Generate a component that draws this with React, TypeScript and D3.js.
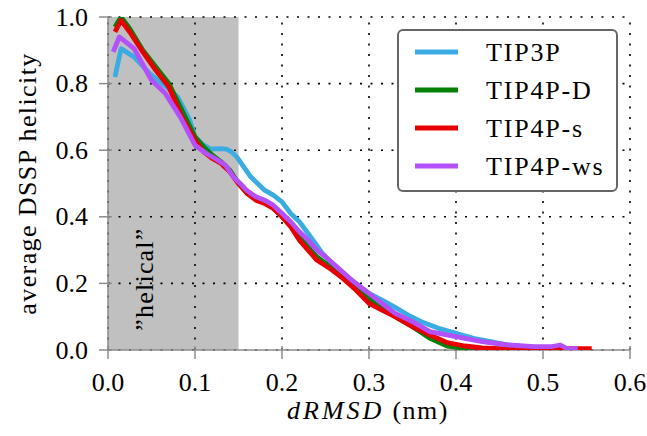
import React from 'react';
import * as d3 from 'd3';

const W = 647;
const H = 436;

const xTicks = [0, 0.1, 0.2, 0.3, 0.4, 0.5, 0.6];
const yTicks = [0, 0.2, 0.4, 0.6, 0.8, 1.0];
const seriesNames = ['TIP3P', 'TIP4P-D', 'TIP4P-s', 'TIP4P-ws'];
const seriesColors = ['#3aace2', '#068006', '#e60000', '#b450fa'];
const helicalRange = [0, 0.15];

const tip3pX = [0.008, 0.015, 0.03, 0.048, 0.065, 0.08, 0.094, 0.1, 0.11, 0.118, 0.128, 0.136, 0.142, 0.148, 0.156, 0.164, 0.172, 0.18, 0.19, 0.2, 0.21, 0.22, 0.23, 0.245, 0.26, 0.27, 0.285, 0.3, 0.315, 0.33, 0.345, 0.36, 0.38, 0.4, 0.42, 0.44, 0.46, 0.48, 0.5];
const tip3pY = [0.82, 0.905, 0.88, 0.83, 0.795, 0.76, 0.69, 0.64, 0.615, 0.603, 0.605, 0.603, 0.595, 0.58, 0.55, 0.52, 0.5, 0.48, 0.465, 0.445, 0.41, 0.385, 0.35, 0.295, 0.25, 0.23, 0.2, 0.17, 0.15, 0.128, 0.105, 0.085, 0.065, 0.05, 0.035, 0.025, 0.015, 0.01, 0.005];

const tip4pdX = [0.008, 0.015, 0.025, 0.04, 0.055, 0.07, 0.085, 0.1, 0.11, 0.12, 0.13, 0.14, 0.15, 0.16, 0.17, 0.18, 0.19, 0.2, 0.21, 0.22, 0.23, 0.24, 0.255, 0.27, 0.285, 0.3, 0.315, 0.33, 0.35, 0.37, 0.39, 0.41, 0.43, 0.45, 0.47];
const tip4pdY = [0.97, 1.0, 0.965, 0.9, 0.85, 0.8, 0.72, 0.64, 0.61, 0.585, 0.565, 0.54, 0.5, 0.47, 0.455, 0.445, 0.43, 0.41, 0.38, 0.345, 0.31, 0.28, 0.25, 0.22, 0.19, 0.155, 0.125, 0.1, 0.07, 0.035, 0.012, 0.005, 0.002, 0.001, 0.0];

const tip4psX = [0.008, 0.015, 0.025, 0.04, 0.055, 0.07, 0.085, 0.1, 0.11, 0.12, 0.13, 0.14, 0.15, 0.16, 0.17, 0.18, 0.19, 0.2, 0.21, 0.22, 0.23, 0.24, 0.255, 0.27, 0.285, 0.3, 0.315, 0.33, 0.35, 0.37, 0.39, 0.41, 0.43, 0.45, 0.47, 0.5, 0.53, 0.556];
const tip4psY = [0.955, 0.99, 0.955, 0.895, 0.84, 0.79, 0.7, 0.63, 0.595, 0.575, 0.56, 0.535, 0.5, 0.47, 0.45, 0.44, 0.425, 0.4, 0.37, 0.33, 0.3, 0.27, 0.245, 0.215, 0.18, 0.14, 0.12, 0.1, 0.07, 0.045, 0.022, 0.012, 0.006, 0.004, 0.003, 0.003, 0.004, 0.004];

const tip4pwsX = [0.006, 0.013, 0.03, 0.05, 0.066, 0.083, 0.1, 0.113, 0.125, 0.135, 0.144, 0.152, 0.16, 0.17, 0.18, 0.19, 0.2, 0.21, 0.22, 0.23, 0.24, 0.25, 0.265, 0.28, 0.295, 0.31, 0.33, 0.35, 0.37, 0.4, 0.43, 0.46, 0.49, 0.51, 0.52, 0.527, 0.54];
const tip4pwsY = [0.895, 0.94, 0.905, 0.81, 0.77, 0.7, 0.615, 0.59, 0.572, 0.555, 0.52, 0.5, 0.478, 0.46, 0.45, 0.435, 0.41, 0.385, 0.355, 0.33, 0.3, 0.28, 0.245, 0.21, 0.18, 0.15, 0.11, 0.085, 0.055, 0.04, 0.025, 0.015, 0.01, 0.01, 0.015, 0.005, 0.003];

const seriesX = [tip3pX, tip4pdX, tip4psX, tip4pwsX];
const seriesY = [tip3pY, tip4pdY, tip4psY, tip4pwsY];

const FONT = "'Liberation Serif', 'Times New Roman', 'DejaVu Serif', serif";

export default function App() {
  const x = d3.scaleLinear().domain([0, 0.6]).range([108, 630]);
  const y = d3.scaleLinear().domain([0, 1]).range([350, 17]);
  const line = d3
    .line<[number, number]>()
    .x((d) => x(d[0]))
    .y((d) => y(d[1]));
  const dash = '2,8.5';
  const fs = 26;
  const ts = { fontFamily: FONT, fontSize: fs, fill: '#000' } as React.CSSProperties;

  return (
    <svg
      width={W}
      height={H}
      style={{ position: 'absolute', left: 0, top: 0, background: '#fff' }}
    >
      <defs>
        <clipPath id="plotclip">
          <rect x={x(0)} y={y(1)} width={x(0.6) - x(0)} height={y(0) - y(1)} />
        </clipPath>
      </defs>
      <rect
        x={x(helicalRange[0])}
        y={y(1)}
        width={x(helicalRange[1]) - x(helicalRange[0])}
        height={y(0) - y(1)}
        fill="#c0c0c0"
      />
      {xTicks.map((t) => (
        <line key={'gx' + t} x1={x(t)} x2={x(t)} y1={y(0)} y2={y(1)} stroke="#000" strokeWidth={1.6} strokeDasharray={dash} />
      ))}
      {yTicks.map((t) => (
        <line key={'gy' + t} x1={x(0)} x2={x(0.6)} y1={y(t)} y2={y(t)} stroke="#000" strokeWidth={1.6} strokeDasharray={dash} />
      ))}
      <line x1={x(0)} x2={x(0.6)} y1={y(0)} y2={y(0)} stroke="#8c8c8c" strokeWidth={1.5} />
      <line x1={x(0)} x2={x(0)} y1={y(0)} y2={y(1)} stroke="#8c8c8c" strokeWidth={1.5} />
      {xTicks.map((t) => (
        <line key={'tx' + t} x1={x(t)} x2={x(t)} y1={y(0) - 4} y2={y(0) + 9} stroke="#8c8c8c" strokeWidth={1.5} />
      ))}
      {yTicks.map((t) => (
        <line key={'ty' + t} x1={x(0) - 9} x2={x(0) + 4} y1={y(t)} y2={y(t)} stroke="#8c8c8c" strokeWidth={1.5} />
      ))}
      <text
        transform={`translate(${x(0.052)},${y(0.213)}) rotate(-90)`}
        textAnchor="middle"
        style={{ ...ts, letterSpacing: 1.2 }}
      >
        {'\u201Dhelical\u201D'}
      </text>
      <g clipPath="url(#plotclip)">
        {seriesNames.map((name, i) => {
          const pts = seriesX[i].map((v, j) => [v, seriesY[i][j]] as [number, number]);
          return (
            <path
              key={name}
              d={line(pts) || ''}
              fill="none"
              stroke={seriesColors[i]}
              strokeWidth={4.8}
              strokeLinejoin="round"
              strokeLinecap="butt"
            />
          );
        })}
      </g>
      {xTicks.map((t) => (
        <text key={'lx' + t} x={x(t)} y={391} textAnchor="middle" style={ts}>
          {t.toFixed(1)}
        </text>
      ))}
      {yTicks.map((t) => (
        <text key={'ly' + t} x={88} y={y(t) + 8.5} textAnchor="end" style={ts}>
          {t.toFixed(1)}
        </text>
      ))}
      <text x={368} y={419} textAnchor="middle" style={ts}>
        <tspan fontStyle="italic" letterSpacing={3}>dRMSD</tspan>
        <tspan letterSpacing={1.5}> (nm)</tspan>
      </text>
      <text
        transform={`translate(36,${(y(0) + y(1)) / 2}) rotate(-90)`}
        textAnchor="middle"
        style={{ ...ts, letterSpacing: 1.4 }}
      >
        average DSSP helicity
      </text>
      <rect x={398} y={30} width={219} height={161} rx={5} ry={5} fill="#fff" stroke="#666" strokeWidth={2} />
      {seriesNames.map((name, i) => (
        <g key={'leg' + name}>
          <line x1={415} x2={458} y1={52 + i * 38} y2={52 + i * 38} stroke={seriesColors[i]} strokeWidth={5} />
          <text x={486} y={52 + i * 38 + 9} style={{ ...ts, letterSpacing: 1.8 }}>
            {name}
          </text>
        </g>
      ))}
    </svg>
  );
}
